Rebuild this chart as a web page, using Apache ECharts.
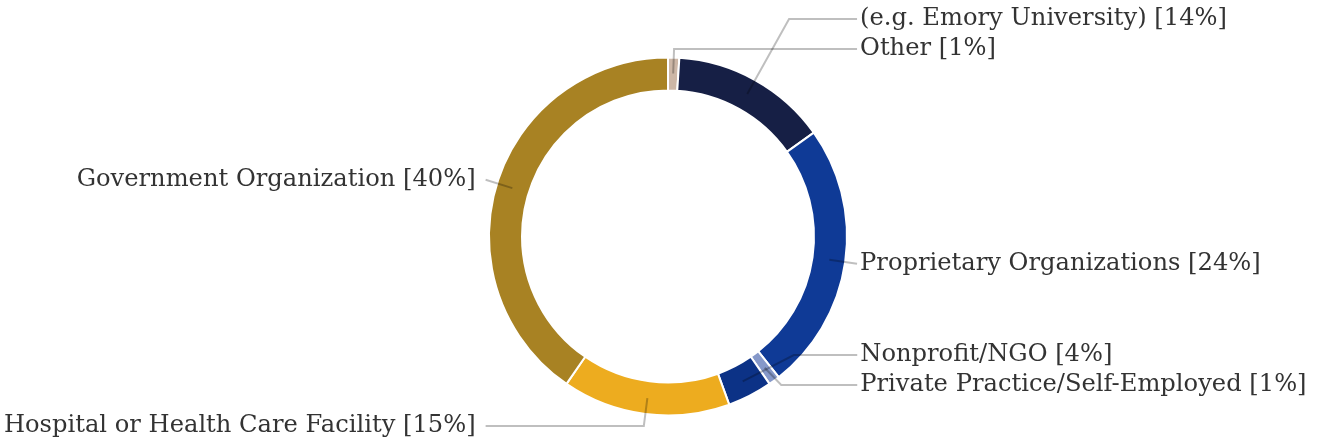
<!DOCTYPE html>
<html>
<head>
<meta charset="utf-8">
<script src="https://cdn.jsdelivr.net/npm/echarts@6/dist/echarts.min.js"></script>
<style>
html,body{margin:0;padding:0;background:#fff;}
#chart{width:1335px;height:447px;}
</style>
</head>
<body>
<div id="chart"></div>
<script>
// Data (clockwise from 12 o'clock)
var categories = [
  'Other',
  '(e.g. Emory University)',
  'Proprietary Organizations',
  'Private Practice/Self-Employed',
  'Nonprofit/NGO',
  'Hospital or Health Care Facility',
  'Government Organization'
];
var percents = [1, 14, 24, 1, 4, 15, 40];
var colors = ['#cdb7a6', '#161f45', '#0f3a96', '#8598c9', '#0c3286', '#edac1f', '#a88223'];

// which label-drawing series shows each category's label
var labelGroup = ['main', 'main', 'main', 'low', 'low', 'main', 'main'];
// per-item label line first-segment length and text gap (style)
var lineLen = [28, 86, 28, 28, 4, 28, 28];
var textGap = [3, 3, 3, 3, 3, 10, 10];

var CX = 668, CY = 236.5;
var FONT = {fontFamily: 'DejaVu Serif', fontSize: 24.2, color: '#333333', lineHeight: 28};
var lineStyle = {color: 'rgba(0,0,0,0.25)', width: 2};

function ringData() {
  return categories.map(function (c, i) {
    return {name: c, value: percents[i], itemStyle: {color: colors[i]}};
  });
}
function labelData(group) {
  return categories.map(function (c, i) {
    return {
      name: c,
      value: percents[i],
      label: {show: labelGroup[i] === group, distanceToLabelLine: textGap[i]},
      labelLine: {show: labelGroup[i] === group, length: lineLen[i]}
    };
  });
}

// box: [left, top, width, height]; center is given relative to the box
function labelSeries(group, box, len2) {
  return {
    type: 'pie',
    left: box[0], top: box[1], width: box[2], height: box[3],
    center: [CX - box[0], CY - box[1]],
    radius: [0, 163],
    startAngle: 90,
    clockwise: true,
    silent: true,
    avoidLabelOverlap: true,
    itemStyle: {color: 'rgba(0,0,0,0)', borderWidth: 0},
    emphasis: {disabled: true},
    label: Object.assign({
      formatter: function (p) { return p.name + ' [' + p.value + '%]'; },
      alignTo: 'labelLine',
      bleedMargin: 0
    }, FONT),
    labelLine: {length2: len2, lineStyle: lineStyle},
    data: labelData(group),
    z: 3
  };
}

var chart = echarts.init(document.getElementById('chart'), null, {renderer: 'canvas'});
chart.setOption({
  animation: false,
  backgroundColor: '#ffffff',
  series: [
    {
      type: 'pie',
      center: [CX, CY],
      radius: [146, 179],
      startAngle: 90,
      clockwise: true,
      silent: true,
      label: {show: false},
      labelLine: {show: false},
      itemStyle: {borderColor: '#ffffff', borderWidth: 2},
      emphasis: {disabled: true},
      data: ringData(),
      z: 2
    },
    labelSeries('main', [-200, 0, 1735, 447], 0),
    labelSeries('low', [-200, 0, 1735, 400], 76)
  ]
});
</script>
</body>
</html>
